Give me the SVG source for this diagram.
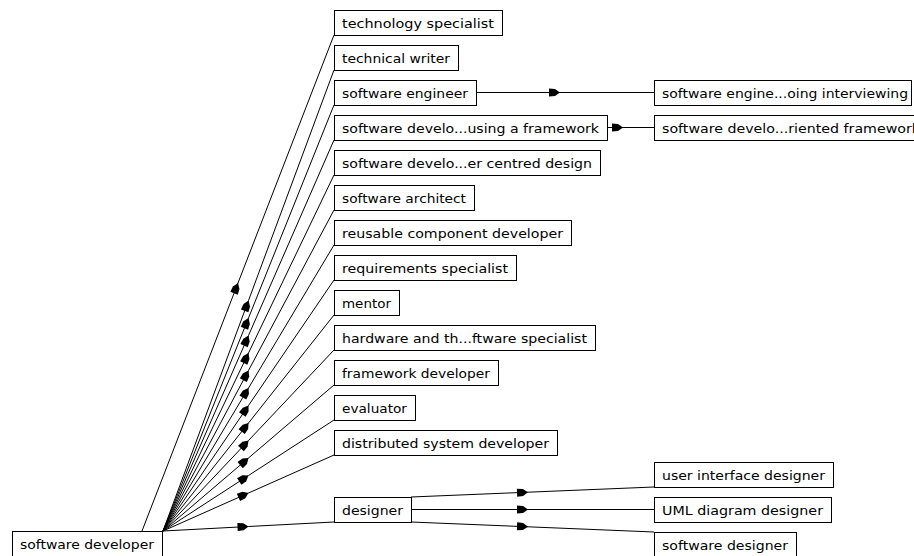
<svg xmlns="http://www.w3.org/2000/svg" width="914" height="556" viewBox="0 0 914 556">
<style>
.box rect{fill:#fff;stroke:#000;stroke-width:1}
.box text{font-family:"DejaVu Sans","Liberation Sans",sans-serif;font-size:12px;fill:#000}
.conn polyline{fill:none;stroke:#000;stroke-width:1;marker-mid:url(#arr)}
</style>
<defs>
<marker id="arr" viewBox="-12 -5 13 10" refX="0" refY="0" markerWidth="13" markerHeight="10" markerUnits="userSpaceOnUse" orient="auto" overflow="visible">
<path d="M-11,-4 L-5,-3.5 L0,0 L-5,3.5 L-11,4 Z" fill="#000"/>
</marker>
</defs>
<rect width="914" height="556" fill="#fff"/>
<g id="connectors" class="conn">
<polyline points="142,531 238,283 334,35"/>
<polyline points="163,531 248.5,300.5 334,70"/>
<polyline points="163,531 248.5,318 334,105"/>
<polyline points="163,531 248.5,335.5 334,140"/>
<polyline points="163,531 248.5,353 334,175"/>
<polyline points="163,531 248.5,370.5 334,210"/>
<polyline points="163,531 248.5,388 334,245"/>
<polyline points="163,531 248.5,405.5 334,280"/>
<polyline points="163,531 248.5,423 334,315"/>
<polyline points="163,531 248.5,440.5 334,350"/>
<polyline points="163,531 248.5,458 334,385"/>
<polyline points="163,531 248.5,475.5 334,420"/>
<polyline points="163,531 248.5,493 334,455"/>
<polyline points="163,531 248.5,526.5 334,522"/>
<polyline points="476,92.5 560,92.5 654,92.5"/>
<polyline points="607,127.5 623,127.5 654,127.5"/>
<polyline points="411,497 528,492.2 654,487"/>
<polyline points="411,509.5 528,509.5 654,509.5"/>
<polyline points="411,522 528,526.8 654,532"/>
</g>
<g id="n1" class="box"><rect x="334.5" y="10.5" width="168" height="25"/><text x="342" y="28" textLength="152" lengthAdjust="spacingAndGlyphs">technology specialist</text></g>
<g id="n2" class="box"><rect x="334.5" y="45.5" width="124" height="25"/><text x="342" y="63" textLength="108" lengthAdjust="spacingAndGlyphs">technical writer</text></g>
<g id="n3" class="box"><rect x="334.5" y="80.5" width="142" height="25"/><text x="342" y="98" textLength="126" lengthAdjust="spacingAndGlyphs">software engineer</text></g>
<g id="n4" class="box"><rect x="334.5" y="115.5" width="273" height="25"/><text x="342" y="133" textLength="257" lengthAdjust="spacingAndGlyphs">software develo...using a framework</text></g>
<g id="n5" class="box"><rect x="334.5" y="150.5" width="266" height="25"/><text x="342" y="168" textLength="250" lengthAdjust="spacingAndGlyphs">software develo...er centred design</text></g>
<g id="n6" class="box"><rect x="334.5" y="185.5" width="140" height="25"/><text x="342" y="203" textLength="124" lengthAdjust="spacingAndGlyphs">software architect</text></g>
<g id="n7" class="box"><rect x="334.5" y="220.5" width="237" height="25"/><text x="342" y="238" textLength="221" lengthAdjust="spacingAndGlyphs">reusable component developer</text></g>
<g id="n8" class="box"><rect x="334.5" y="255.5" width="182" height="25"/><text x="342" y="273" textLength="166" lengthAdjust="spacingAndGlyphs">requirements specialist</text></g>
<g id="n9" class="box"><rect x="334.5" y="290.5" width="65" height="25"/><text x="342" y="308" textLength="49" lengthAdjust="spacingAndGlyphs">mentor</text></g>
<g id="n10" class="box"><rect x="334.5" y="325.5" width="261" height="25"/><text x="342" y="343" textLength="245" lengthAdjust="spacingAndGlyphs">hardware and th...ftware specialist</text></g>
<g id="n11" class="box"><rect x="334.5" y="360.5" width="164" height="25"/><text x="342" y="378" textLength="148" lengthAdjust="spacingAndGlyphs">framework developer</text></g>
<g id="n12" class="box"><rect x="334.5" y="395.5" width="81" height="25"/><text x="342" y="413" textLength="65" lengthAdjust="spacingAndGlyphs">evaluator</text></g>
<g id="n13" class="box"><rect x="334.5" y="430.5" width="223" height="25"/><text x="342" y="448" textLength="207" lengthAdjust="spacingAndGlyphs">distributed system developer</text></g>
<g id="n14" class="box"><rect x="334.5" y="497.5" width="77" height="25"/><text x="342" y="515" textLength="61" lengthAdjust="spacingAndGlyphs">designer</text></g>
<g id="n15" class="box"><rect x="654.5" y="80.5" width="257" height="25"/><text x="662" y="98" textLength="246" lengthAdjust="spacingAndGlyphs">software engine...oing interviewing</text></g>
<g id="n16" class="box"><rect x="654.5" y="115.5" width="272" height="25"/><text x="662" y="133" textLength="258" lengthAdjust="spacingAndGlyphs">software develo...riented framework</text></g>
<g id="n17" class="box"><rect x="654.5" y="462.5" width="179" height="25"/><text x="662" y="480" textLength="163" lengthAdjust="spacingAndGlyphs">user interface designer</text></g>
<g id="n18" class="box"><rect x="654.5" y="497.5" width="177" height="25"/><text x="662" y="515" textLength="161" lengthAdjust="spacingAndGlyphs">UML diagram designer</text></g>
<g id="n19" class="box"><rect x="654.5" y="532.5" width="142" height="25"/><text x="662" y="550" textLength="126" lengthAdjust="spacingAndGlyphs">software designer</text></g>
<g id="n20" class="box"><rect x="12.5" y="531.5" width="150" height="25"/><text x="20" y="549" textLength="134" lengthAdjust="spacingAndGlyphs">software developer</text></g>
</svg>
